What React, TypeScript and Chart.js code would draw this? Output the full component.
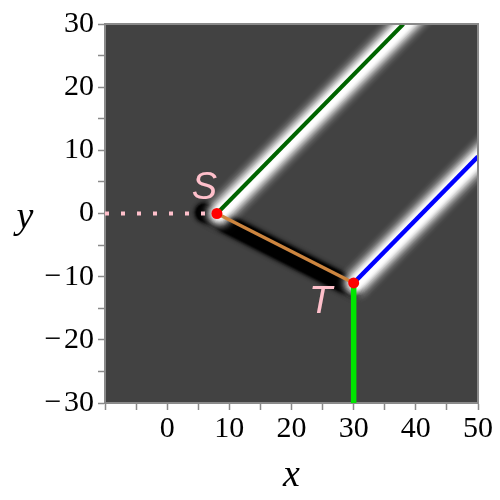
import React, { useEffect, useRef } from "react";
import { Chart, registerables } from "chart.js";

Chart.register(...registerables);

// ---- data ----
const pointNames = ["S", "T"];
const pointX = [8, 30];
const pointY = [0, -11];

const dottedX = [-10, 8];
const dottedY = [0, 0];
const greenX = [8, 38];
const greenY = [0, 30];
const blueX = [30, 50];
const blueY = [-11, 9];
const orangeX = [8, 30];
const orangeY = [0, -11];
const limeX = [30, 30];
const limeY = [-11, -30];

const xLabelled = [0, 10, 20, 30, 40, 50];
const yLabelled = [-30, -20, -10, 0, 10, 20, 30];

// ---- styling constants ----
const BG = "#424242";
const FRAME = "#8a8a8a";
const labelOffsets = [
  { dx: -2, dy: 4.0 },
  { dx: -5.3, dy: -3.0 },
];

// build stacked translucent stroke layers approximating a soft profile
function profileLayers(core: number, sigma: number, maxR: number) {
  const layers: { w: number; a: number }[] = [];
  let prev = 0;
  for (let r = maxR; r >= core; r -= 1) {
    const d = r - 0.5;
    const target = d <= core ? 1 : Math.exp(-0.5 * ((d - core) / sigma) ** 2);
    const o = r === core ? 1 : Math.max(target, prev);
    const a = prev >= 1 ? 1 : 1 - (1 - o) / (1 - prev);
    layers.push({ w: r * 2, a: Math.min(1, Math.max(0, a)) });
    prev = o;
  }
  return layers;
}
const glowLayers = profileLayers(4, 6, 27);
const shadowLayers = profileLayers(7, 2.6, 16);

const pts = (xs: number[], ys: number[]) => xs.map((x, i) => ({ x, y: ys[i] }));

function shifted(xs: number[], ys: number[], dx: number, dy: number, extStart: number, extEnd: number) {
  const ux = xs[1] - xs[0];
  const uy = ys[1] - ys[0];
  const len = Math.hypot(ux, uy);
  return [
    { x: xs[0] + dx - (ux / len) * extStart, y: ys[0] + dy - (uy / len) * extStart },
    { x: xs[1] + dx + (ux / len) * extEnd, y: ys[1] + dy + (uy / len) * extEnd },
  ];
}

const fmt = (v: number) => (v < 0 ? "\u2212\u200A" + Math.abs(v) : String(v));

function lineDs(data: any[], color: string, width: number, order: number, extra: any = {}) {
  return {
    data,
    showLine: true,
    borderColor: color,
    borderWidth: width,
    pointRadius: 0,
    pointHoverRadius: 0,
    fill: false,
    clip: 0,
    order,
    tension: 0,
    ...extra,
  };
}

const framePlugin = {
  id: "frame",
  beforeDraw(chart: any) {
    const { ctx, chartArea: a } = chart;
    ctx.save();
    ctx.fillStyle = BG;
    ctx.fillRect(a.left, a.top, a.right - a.left, a.bottom - a.top);
    ctx.restore();
  },
  afterDatasetsDraw(chart: any) {
    const { ctx, chartArea: a, scales } = chart;
    ctx.save();
    ctx.strokeStyle = FRAME;
    ctx.lineWidth = 2;
    ctx.beginPath();
    ctx.moveTo(a.left, a.top);
    ctx.lineTo(a.right, a.top);
    ctx.lineTo(a.right, a.bottom);
    ctx.stroke();
    // point labels
    ctx.fillStyle = "#ffc0cb";
    ctx.font = 'italic 38px "Liberation Sans"';
    ctx.textAlign = "center";
    ctx.textBaseline = "middle";
    pointNames.forEach((n, i) => {
      const px = scales.x.getPixelForValue(pointX[i] + labelOffsets[i].dx);
      const py = scales.y.getPixelForValue(pointY[i] + labelOffsets[i].dy);
      ctx.fillText(n, px, py);
    });
    ctx.restore();
  },
  afterDraw(chart: any) {
    const { ctx, chartArea: a } = chart;
    ctx.save();
    ctx.fillStyle = "#000";
    ctx.font = 'italic 38px "Liberation Serif"';
    ctx.textAlign = "center";
    ctx.textBaseline = "alphabetic";
    ctx.fillText("x", (a.left + a.right) / 2, 486);
    ctx.fillText("y", 25, (a.top + a.bottom) / 2 + 14);
    ctx.restore();
  },
};

export default function App() {
  const ref = useRef<HTMLCanvasElement>(null);
  useEffect(() => {
    const datasets: any[] = [];
    // markers
    datasets.push({
      data: pts(pointX, pointY),
      showLine: false,
      pointRadius: 5.5,
      pointHoverRadius: 5.5,
      pointBackgroundColor: "#ff0000",
      pointBorderWidth: 0,
      order: 0,
      clip: false,
    });
    // lines
    datasets.push(lineDs(pts(greenX, greenY), "#006400", 4, 1));
    datasets.push(lineDs(pts(blueX, blueY), "#0000ff", 4.5, 1));
    datasets.push(lineDs(pts(orangeX, orangeY), "#cd853f", 3.5, 1));
    datasets.push(lineDs(pts(limeX, limeY), "#00e600", 5.5, 1));
    datasets.push(lineDs(pts(dottedX, dottedY), "#ffc0cb", 4, 1, { borderDash: [4, 12], borderCapStyle: "butt" }));
    // glow along rays
    glowLayers.forEach((g) => {
      const c = `rgba(255,255,255,${g.a.toFixed(4)})`;
      datasets.push(lineDs(shifted(greenX, greenY, 0.4, 0, 0, 10), c, g.w, 2, { borderCapStyle: "round" }));
      datasets.push(lineDs(shifted(blueX, blueY, 0.4, 0, 0, 10), c, g.w, 2, { borderCapStyle: "round" }));
    });
    // shadow along segment
    shadowLayers.forEach((s) => {
      const c = `rgba(0,0,0,${s.a.toFixed(4)})`;
      datasets.push(lineDs(shifted(orangeX, orangeY, 0, -0.85, 2.2, 0), c, s.w, 3, { borderCapStyle: "round" }));
    });

    const tickFont = { family: '"Liberation Serif"', size: 30 };
    const chart = new Chart(ref.current!, {
      type: "scatter",
      data: { datasets },
      options: {
        animation: false,
        responsive: false,
        events: [],
        layout: { padding: { top: 24, right: 22, left: 0, bottom: 0 } },
        plugins: { legend: { display: false }, tooltip: { enabled: false } },
        scales: {
          x: {
            type: "linear",
            min: -10,
            max: 50,
            afterFit: (s: any) => {
              s.height = 97;
            },
            ticks: {
              stepSize: 5,
              autoSkip: false,
              maxRotation: 0,
              padding: 1,
              color: "#000",
              font: tickFont,
              callback: (v: any) => (xLabelled.includes(Number(v)) ? fmt(Number(v)) : ""),
            },
            grid: { drawOnChartArea: false, drawTicks: true, tickLength: 7, tickColor: FRAME, tickWidth: 1.5 },
            border: { display: true, color: FRAME, width: 2 },
          },
          y: {
            type: "linear",
            min: -30,
            max: 30,
            afterFit: (s: any) => {
              s.width = 105;
            },
            ticks: {
              stepSize: 5,
              autoSkip: false,
              padding: 4,
              color: "#000",
              font: tickFont,
              callback: (v: any) => (yLabelled.includes(Number(v)) ? fmt(Number(v)) : ""),
            },
            grid: { drawOnChartArea: false, drawTicks: true, tickLength: 7, tickColor: FRAME, tickWidth: 1.5 },
            border: { display: true, color: FRAME, width: 2 },
          },
        },
      },
      plugins: [framePlugin],
    } as any);
    return () => chart.destroy();
  }, []);
  return (
    <div style={{ position: "fixed", left: 0, top: 0, width: 500, height: 500, background: "#fff" }}>
      <canvas ref={ref} width={500} height={500} style={{ display: "block" }} />
    </div>
  );
}
